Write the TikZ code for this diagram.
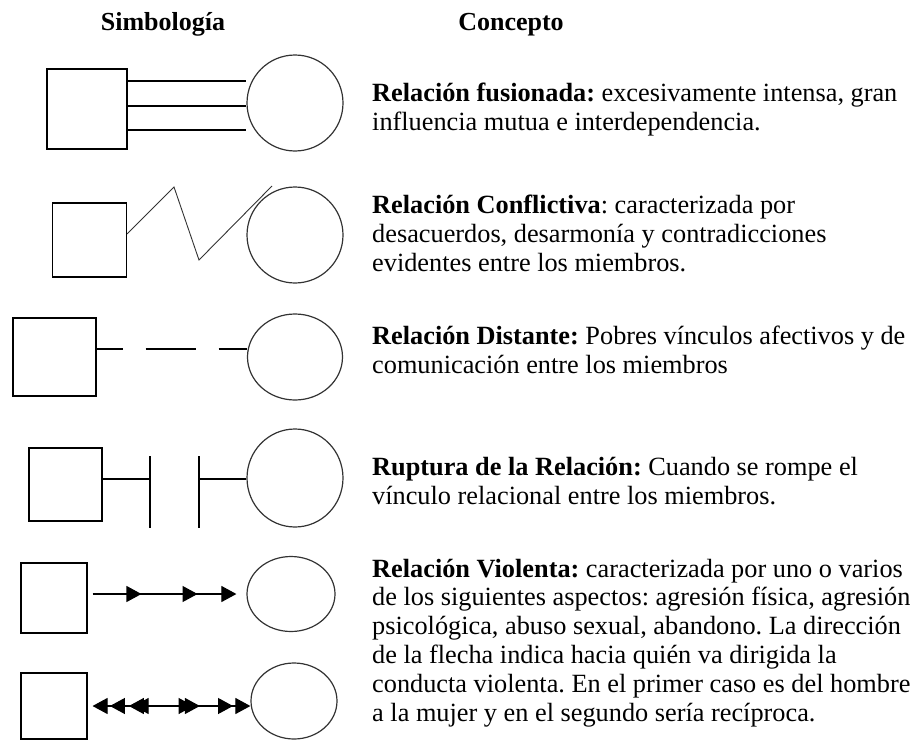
\documentclass[tikz,border=0pt]{standalone}
\usepackage{fontspec}
\setmainfont{Liberation Serif}
\usetikzlibrary{arrows.meta,shapes.geometric,decorations.markings}

\tikzset{
  hombre/.style={draw,line width=1.1pt,inner sep=0pt,minimum width=#1,minimum height=#1},
  mujer/.style={draw=black!80,ellipse,line width=1.2pt,inner sep=0pt},
  rel/.style={line width=1.1pt},
  punta/.style={-{Triangle[length=15pt,width=16pt]}},
  concepto/.style={anchor=base west,align=left,inner sep=0pt,font=\fontsize{26.3}{28.8}\selectfont},
  titulo/.style={anchor=base,inner sep=0pt,font=\fontsize{26}{28}\selectfont\bfseries}
}

\begin{document}
\frenchspacing
\begin{tikzpicture}[x=1pt,y=-1pt]
\useasboundingbox (0,0) rectangle (916,744);

\node[titulo] (t1) at (163,30) {Simbología};
\node[titulo] (t2) at (511,30) {Concepto};

% fusionada
\node[hombre=80pt] (h1) at (87,109) {};
\node[mujer,minimum width=96pt,minimum height=96pt] (m1) at (295,103) {};
\draw[rel] (h1.east |- 0,81) -- (m1.west |- 0,81);
\draw[rel] (h1.east |- 0,106) -- (m1.west |- 0,106);
\draw[rel] (h1.east |- 0,130) -- (m1.west |- 0,130);
\node[concepto] (c1) at (372,130) {\textbf{Relación fusionada:} excesivamente intensa, gran\\influencia mutua e interdependencia.};

% conflictiva
\node[hombre=74pt] (h2) at (89.5,240) {};
\node[mujer,minimum width=96pt,minimum height=96pt] (m2) at (295,235) {};
\draw[line width=0.9pt,black!80] (h2.east |- 0,234) -- (174,187) -- (199,260) -- (272,186);
\node[concepto] (c2) at (372,271) {\textbf{Relación Conflictiva}: caracterizada por\\desacuerdos, desarmonía y contradicciones\\evidentes entre los miembros.};

% distante
\node[hombre=78pt,minimum width=83pt] (h3) at (54.5,357) {};
\node[mujer,minimum width=95pt,minimum height=86pt] (m3) at (295,357) {};
\draw[rel,dash pattern=on 26pt off 23pt on 50pt off 23pt on 40pt] (h3.east |- 0,349) -- (m3.west |- 0,349);
\node[concepto] (c3) at (372,373) {\textbf{Relación Distante:} Pobres vínculos afectivos y de\\comunicación entre los miembros};

% ruptura
\node[hombre=73pt] (h4) at (65.5,484.5) {};
\node[mujer,minimum width=96pt,minimum height=98pt] (m4) at (295,478) {};
\draw[rel] (h4.east |- 0,479) -- (150,479);
\draw[rel] (150,456) -- (150,528);
\draw[rel] (199,456) -- (199,528);
\draw[rel] (199,479) -- (m4.west |- 0,479);
\node[concepto] (c4) at (372,504) {\textbf{Ruptura de la Relación:} Cuando se rompe el\\vínculo relacional entre los miembros.};

% violenta
\node[hombre=70pt,minimum width=66pt] (h5) at (54,598) {};
\node[mujer,minimum width=88pt,minimum height=75pt] (m5) at (291,594) {};
\draw[rel,punta,postaction={decorate},decoration={markings,
  mark=at position 0.34 with {\arrow{Triangle[length=15pt,width=16pt]}},
  mark=at position 0.73 with {\arrow{Triangle[length=15pt,width=16pt]}}}]
  ([xshift=5pt]h5.east |- 0,594) -- ([xshift=-10pt]m5.west);
\node[hombre=66pt] (h6) at (54,706) {};
\node[mujer,minimum width=86pt,minimum height=76pt] (m6) at (294,701) {};
\draw[rel,{Triangle[length=15pt,width=16pt]}-{Triangle[length=15pt,width=16pt]},postaction={decorate},decoration={markings,
  mark=at position 0.11 with {\arrowreversed{Triangle[length=15pt,width=16pt]}},
  mark=at position 0.23 with {\arrowreversed{Triangle[length=15pt,width=16pt]}},
  mark=at position 0.26 with {\arrowreversed{Triangle[length=15pt,width=16pt]}},
  mark=at position 0.64 with {\arrow{Triangle[length=15pt,width=16pt]}},
  mark=at position 0.68 with {\arrow{Triangle[length=15pt,width=16pt]}},
  mark=at position 0.89 with {\arrow{Triangle[length=15pt,width=16pt]}}}]
  ([xshift=5pt]h6.east |- 0,706) -- (m6.west |- 0,706);
\node[concepto] (c5) at (372,721) {\textbf{Relación Violenta:} caracterizada por uno o varios\\de los siguientes aspectos: agresión física, agresión\\psicológica, abuso sexual, abandono. La dirección\\de la flecha indica hacia quién va dirigida la\\conducta violenta. En el primer caso es del hombre\\a la mujer y en el segundo sería recíproca.};
\end{tikzpicture}
\end{document}
